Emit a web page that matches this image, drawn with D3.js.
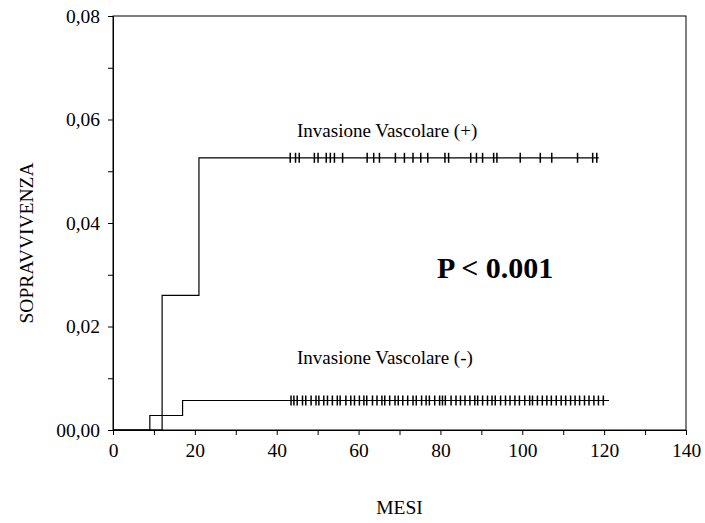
<!DOCTYPE html>
<html>
<head>
<meta charset="utf-8">
<script src="https://cdn.jsdelivr.net/npm/d3@7"></script>
<style>
  body { margin: 0; background: #fff; }
  text { font-family: "Liberation Serif", "Times New Roman", serif; fill: #000; }
</style>
</head>
<body>
<div id="chart"></div>
<script>

// tick values and labels
var xTicks = [0, 20, 40, 60, 80, 100, 120, 140];
var xMinor = [10, 30, 50, 70, 90, 110, 130];
var yTicks = [0, 0.02, 0.04, 0.06, 0.08];
var yTickLabels = ["00,00", "0,02", "0,04", "0,06", "0,08"];
var yMinor = [0.01, 0.03, 0.05, 0.07];

// step curve (+): [month, value]
var stepPos = [[0, 0], [12, 0], [12, 0.026], [21, 0.026], [21, 0.0526], [118.7, 0.0526]];
var censorPos = [43.3, 44.6, 45.5, 49.2, 50.1, 52.1, 53.1, 54.1, 56.1, 62.1, 63.7, 65.1,
                 69.0, 71.2, 73.3, 75.2, 76.9, 81.1, 82.0, 87.4, 88.8, 90.3, 93.0, 93.8,
                 99.5, 104.4, 107.2, 113.5, 117.2, 118.2];

// step curve (-)
var stepNeg = [[0, 0], [9, 0], [9, 0.0028], [17, 0.0028], [17, 0.0057], [121.2, 0.0057]];
var censorNeg = [43.5, 44.2, 45.0, 46.3, 47.1, 48.4, 49.6, 50.3, 51.5, 52.4, 53.6, 54.8,
                 55.5, 56.9, 58.1, 59.0, 60.2, 61.3, 62.0, 63.4, 64.5, 65.7, 66.4, 67.6,
                 68.9, 69.7, 70.8, 72.0, 73.3, 74.1, 75.4, 76.5, 77.3, 78.6, 79.8, 80.5,
                 81.2, 82.6, 83.8, 84.9, 86.0, 87.2, 88.4, 89.1, 90.3, 91.5, 92.6, 93.4,
                 94.7, 95.9, 97.0, 98.2, 99.3, 100.6, 101.8, 102.5, 103.7, 104.9, 106.0,
                 107.1, 108.3, 109.5, 110.6, 111.8, 112.9, 114.0, 115.2, 116.3, 117.5,
                 118.6, 119.8];

window.onload = function () {

  var width = 705, height = 523;
  var margin = {top: 16, right: 19, bottom: 93, left: 113};
  var w = width - margin.left - margin.right;
  var h = height - margin.top - margin.bottom;

  var svg = d3.select("#chart")
              .append("svg")
                .attr("width", width)
                .attr("height", height)
              .append("g")
                .attr("transform", "translate(" + margin.left + "," + margin.top + ")");

  var x = d3.scaleLinear().domain([0, 140]).range([0, w]);
  var y = d3.scaleLinear().domain([0, 0.08]).range([h, 0]);

  // box
  svg.append("rect")
     .attr("x", 0).attr("y", 0)
     .attr("width", w).attr("height", h)
     .attr("fill", "none")
     .attr("stroke", "#000")
     .attr("stroke-width", 1);

  // x axis
  svg.append("g")
     .attr("transform", "translate(0," + h + ")")
     .call(d3.axisBottom(x).tickValues(xTicks).tickSize(5).tickPadding(8).tickFormat(d3.format("d")));
  svg.append("g")
     .attr("transform", "translate(0," + h + ")")
     .call(d3.axisBottom(x).tickValues(xMinor).tickSize(5).tickFormat(""));

  // y axis
  svg.append("g")
     .call(d3.axisLeft(y).tickValues(yTicks).tickSize(5).tickPadding(8)
       .tickFormat(function (d, i) { return yTickLabels[i]; }));
  svg.append("g")
     .call(d3.axisLeft(y).tickValues(yMinor).tickSize(5).tickFormat(""));

  svg.selectAll(".domain").attr("stroke", "#000");
  svg.selectAll(".tick line").attr("stroke", "#000");
  svg.selectAll(".tick text")
     .style("font-family", "'Liberation Serif', 'Times New Roman', serif")
     .style("font-size", "19.5px")
     .attr("fill", "#000");

  // curves
  var line = d3.line()
               .x(function (d) { return x(d[0]); })
               .y(function (d) { return y(d[1]); });

  [stepPos, stepNeg].forEach(function (s) {
    svg.append("path")
       .datum(s)
       .attr("d", line)
       .attr("fill", "none")
       .attr("stroke", "#000")
       .attr("stroke-width", 1.2);
  });

  // censor marks
  function censor(data, level) {
    svg.append("g")
       .selectAll("line")
       .data(data)
       .enter()
       .append("line")
         .attr("x1", function (d) { return x(d); })
         .attr("x2", function (d) { return x(d); })
         .attr("y1", y(level) - 5)
         .attr("y2", y(level) + 5)
         .attr("stroke", "#000")
         .attr("stroke-width", 1.5);
  }
  censor(censorPos, 0.0526);
  censor(censorNeg, 0.0057);

  // labels inside
  svg.append("text")
     .attr("x", 184).attr("y", 121)
     .style("font-size", "19px")
     .text("Invasione Vascolare (+)");

  svg.append("text")
     .attr("x", 184).attr("y", 348)
     .style("font-size", "19px")
     .text("Invasione Vascolare (-)");

  svg.append("text")
     .attr("x", 324).attr("y", 262)
     .style("font-size", "30px")
     .style("font-weight", "bold")
     .text("P < 0.001");

  // axis titles
  svg.append("text")
     .attr("x", w / 2 - 0)
     .attr("y", h + 84)
     .attr("text-anchor", "middle")
     .style("font-size", "19.5px")
     .text("MESI");

  svg.append("text")
     .attr("transform", "rotate(-90)")
     .attr("x", -(243 - margin.top))
     .attr("y", -80)
     .attr("text-anchor", "middle")
     .style("font-size", "19.5px")
     .text("SOPRAVVIVENZA");
};
</script>
</body>
</html>
